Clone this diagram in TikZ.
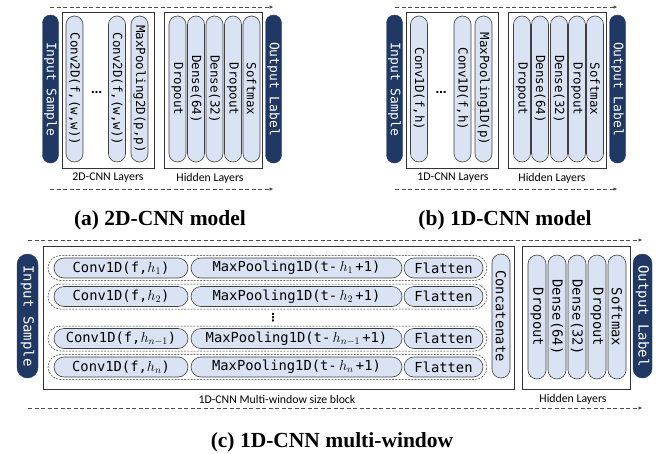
\documentclass[tikz,border=0pt]{standalone}
\usepackage{fontspec}
\setmainfont{Liberation Serif}
\newfontfamily\pillfont{DejaVu Sans Mono}
\newfontfamily\layerfont{Carlito}
\newfontfamily\dotfont{DejaVu Sans}
\usetikzlibrary{arrows.meta, shapes.misc}

\definecolor{pillblue}{HTML}{DAE3F3}
\definecolor{pilledge}{HTML}{3F3F3F}
\definecolor{navy}{HTML}{1F3864}

\begin{document}
\begin{tikzpicture}[
    x=1pt, y=-1pt,
    pill_style/.style={rounded rectangle, draw=pilledge, fill=pillblue, line width=0.6pt,
        inner sep=0pt, font=\pillfont\fontsize{12.5}{13}\selectfont},
    vpill_style/.style={pill_style, rotate=-90},
    dark_style/.style={rounded rectangle, draw=navy, fill=navy, text=white, inner sep=0pt,
        rotate=-90, font=\pillfont\fontsize{13}{14}\selectfont},
    big_style/.style={font=\pillfont\fontsize{13.8}{14}\selectfont},
    box_style/.style={draw=black!80, line width=0.8pt, inner sep=0pt},
    row_style/.style={rounded rectangle, draw=black!80, line width=0.5pt,
        dash pattern=on 2pt off 1.2pt, inner sep=0pt, minimum width=439pt, minimum height=25pt},
    flow_style/.style={draw=black!70, line width=0.7pt, dash pattern=on 4pt off 2.5pt,
        -{Latex[length=4pt, width=3.5pt]}},
    layer_style/.style={font=\layerfont\fontsize{11.8}{12}\selectfont},
    dots_style/.style={font=\dotfont\bfseries\fontsize{11}{11}\selectfont, inner sep=0pt},
    caption_style/.style={font=\bfseries\fontsize{21.5}{22}\selectfont}
]
    \useasboundingbox (0,0) rectangle (670,453);

    % (a) 2D-CNN model
    \node[box_style, minimum width=92pt, minimum height=156pt] (a_cnn) at (108,90) {};
    \node[box_style, minimum width=98pt, minimum height=156pt] (a_hid) at (213,90) {};
    \node[dark_style, minimum width=148pt, minimum height=16pt] (a_in) at (50.5,89) {Input Sample};
    \node[vpill_style, minimum width=146pt, minimum height=17pt] (a_conv1) at (74.5,89) {Conv2D(f,(w,w))};
    \node[dots_style] (a_dots) at (96.5,92) {…};
    \node[vpill_style, minimum width=146pt, minimum height=17pt] (a_conv2) at (117,89) {Conv2D(f,(w,w))};
    \node[vpill_style, minimum width=146pt, minimum height=17pt] (a_pool) at (139.5,89) {MaxPooling2D(p,p)};
    \node[vpill_style, minimum width=146pt, minimum height=17pt] (a_drop1) at (177.5,89) {Dropout};
    \node[vpill_style, minimum width=146pt, minimum height=17pt] (a_dense1) at (196,89) {Dense(64)};
    \node[vpill_style, minimum width=146pt, minimum height=17pt] (a_dense2) at (214.5,89) {Dense(32)};
    \node[vpill_style, minimum width=146pt, minimum height=17pt] (a_drop2) at (233,89) {Dropout};
    \node[vpill_style, minimum width=146pt, minimum height=17pt] (a_soft) at (251.5,89) {Softmax};
    \node[dark_style, minimum width=148pt, minimum height=16pt] (a_out) at (273.5,89) {Output Label};
    \node[layer_style] at (108,178) {2D-CNN Layers};
    \node[layer_style] at (210,178) {Hidden Layers};
    \coordinate (a_top) at (50,7);
    \coordinate (a_bot) at (50,189);
    \draw[flow_style] (a_top) -- (a_top -| a_out);
    \draw[flow_style] (a_bot) -- (a_bot -| a_out);
    \node[caption_style] at (160,220) {(a) 2D-CNN model};

    % (b) 1D-CNN model
    \node[box_style, minimum width=92pt, minimum height=156pt] (b_cnn) at (452,90) {};
    \node[box_style, minimum width=98pt, minimum height=156pt] (b_hid) at (557,90) {};
    \node[dark_style, minimum width=148pt, minimum height=16pt] (b_in) at (394.5,89) {Input Sample};
    \node[vpill_style, minimum width=146pt, minimum height=17pt] (b_conv1) at (419,89) {Conv1D(f,h)};
    \node[dots_style] (b_dots) at (441,92) {…};
    \node[vpill_style, minimum width=146pt, minimum height=17pt] (b_conv2) at (462.5,89) {Conv1D(f,h)};
    \node[vpill_style, minimum width=146pt, minimum height=17pt] (b_pool) at (483.5,89) {MaxPooling1D(p)};
    \node[vpill_style, minimum width=146pt, minimum height=17pt] (b_drop1) at (522,89) {Dropout};
    \node[vpill_style, minimum width=146pt, minimum height=17pt] (b_dense1) at (540,89) {Dense(64)};
    \node[vpill_style, minimum width=146pt, minimum height=17pt] (b_dense2) at (559,89) {Dense(32)};
    \node[vpill_style, minimum width=146pt, minimum height=17pt] (b_drop2) at (577,89) {Dropout};
    \node[vpill_style, minimum width=146pt, minimum height=17pt] (b_soft) at (595,89) {Softmax};
    \node[dark_style, minimum width=148pt, minimum height=16pt] (b_out) at (617.5,89) {Output Label};
    \node[layer_style] at (453,178) {1D-CNN Layers};
    \node[layer_style] at (552,178) {Hidden Layers};
    \coordinate (b_top) at (395,7);
    \coordinate (b_bot) at (395,189);
    \draw[flow_style] (b_top) -- (b_top -| b_out);
    \draw[flow_style] (b_bot) -- (b_bot -| b_out);
    \node[caption_style] at (505,220) {(b) 1D-CNN model};

    % (c) 1D-CNN multi-window
    \node[box_style, minimum width=471pt, minimum height=143pt] (c_block) at (278.5,317.5) {};
    \node[box_style, minimum width=108pt, minimum height=143pt] (c_hid) at (576,317.5) {};
    \node[dark_style, font=\pillfont\fontsize{14}{15}\selectfont, minimum width=124pt, minimum height=21pt] (c_in) at (27.5,316) {Input Sample};

    \node[row_style] (c_row1) at (267.5,268) {};
    \node[pill_style, big_style, minimum width=134pt, minimum height=20pt] (c_conv1) at (121,268) {Conv1D(f,$h_1$)};
    \node[pill_style, big_style, minimum width=211pt, minimum height=20pt] (c_pool1) at (296.5,268) {MaxPooling1D(t-\,$h_1$\,+1)};
    \node[pill_style, big_style, minimum width=79pt, minimum height=20pt] (c_flat1) at (443.5,268) {Flatten};

    \node[row_style] (c_row2) at (267.5,296.5) {};
    \node[pill_style, big_style, minimum width=134pt, minimum height=20pt] (c_conv2) at (121,296.5) {Conv1D(f,$h_2$)};
    \node[pill_style, big_style, minimum width=211pt, minimum height=20pt] (c_pool2) at (296.5,296.5) {MaxPooling1D(t-\,$h_2$\,+1)};
    \node[pill_style, big_style, minimum width=79pt, minimum height=20pt] (c_flat2) at (443.5,296.5) {Flatten};

    \node[dots_style] (c_dots) at (273,318) {⋮};

    \node[row_style] (c_row3) at (267.5,338.5) {};
    \node[pill_style, big_style, minimum width=134pt, minimum height=20pt] (c_conv3) at (121,338.5) {Conv1D(f,$h_{n-1}$)};
    \node[pill_style, big_style, minimum width=211pt, minimum height=20pt] (c_pool3) at (296.5,338.5) {MaxPooling1D(t-\,$h_{n-1}$\,+1)};
    \node[pill_style, big_style, minimum width=79pt, minimum height=20pt] (c_flat3) at (443.5,338.5) {Flatten};

    \node[row_style] (c_row4) at (267.5,367) {};
    \node[pill_style, big_style, minimum width=134pt, minimum height=20pt] (c_conv4) at (121,367) {Conv1D(f,$h_n$)};
    \node[pill_style, big_style, minimum width=211pt, minimum height=20pt] (c_pool4) at (296.5,367) {MaxPooling1D(t-\,$h_n$\,+1)};
    \node[pill_style, big_style, minimum width=79pt, minimum height=20pt] (c_flat4) at (443.5,367) {Flatten};

    \node[vpill_style, big_style, minimum width=124pt, minimum height=18pt] (c_concat) at (501,316) {Concatenate};
    \node[vpill_style, big_style, minimum width=124pt, minimum height=18pt] (c_drop1) at (537,317) {Dropout};
    \node[vpill_style, big_style, minimum width=124pt, minimum height=18pt] (c_dense1) at (557,317) {Dense(64)};
    \node[vpill_style, big_style, minimum width=124pt, minimum height=18pt] (c_dense2) at (577,317) {Dense(32)};
    \node[vpill_style, big_style, minimum width=124pt, minimum height=18pt] (c_drop2) at (597,317) {Dropout};
    \node[vpill_style, big_style, minimum width=124pt, minimum height=18pt] (c_soft) at (617,317) {Softmax};
    \node[dark_style, font=\pillfont\fontsize{14}{15}\selectfont, minimum width=124pt, minimum height=19pt] (c_out) at (642.5,316) {Output Label};

    \node[layer_style] at (277,399) {1D-CNN Multi-window size block};
    \node[layer_style] at (573,399) {Hidden Layers};
    \coordinate (c_top) at (28,240);
    \coordinate (c_bot) at (28,408);
    \draw[flow_style] (c_top) -- (c_top -| c_out);
    \draw[flow_style] (c_bot) -- (c_bot -| c_out);
    \node[caption_style] at (332,442) {(c) 1D-CNN multi-window};
\end{tikzpicture}
\end{document}
